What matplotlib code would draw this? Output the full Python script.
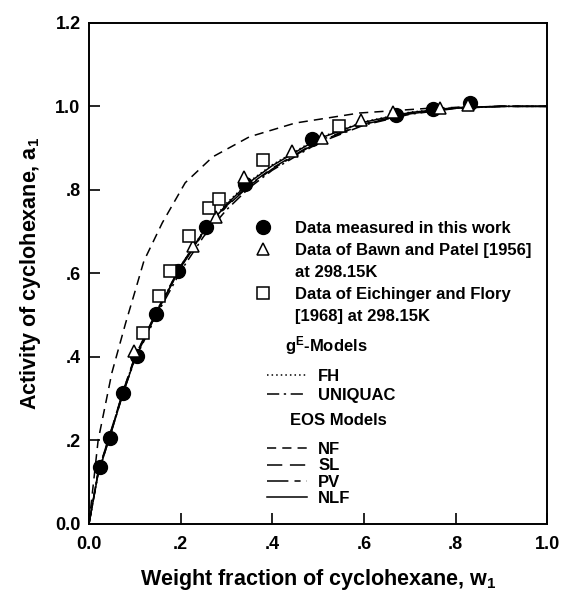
import numpy as np
import matplotlib
matplotlib.use('Agg')
import matplotlib.pyplot as plt
from matplotlib.lines import Line2D

plt.rcParams['font.family'] = ['Liberation Sans', 'DejaVu Sans']
plt.rcParams['font.weight'] = 'bold'
plt.rcParams['axes.labelweight'] = 'bold'
plt.rcParams['mathtext.fontset'] = 'custom'
plt.rcParams['mathtext.rm'] = 'Liberation Sans:bold'
plt.rcParams['mathtext.default'] = 'rm'

w_this = [0.024, 0.046, 0.074, 0.105, 0.146, 0.195, 0.255, 0.341, 0.487, 0.670, 0.751, 0.832]
a_this = [0.137, 0.206, 0.314, 0.402, 0.503, 0.606, 0.710, 0.813, 0.922, 0.980, 0.993, 1.008]

w_bawn = [0.098, 0.227, 0.277, 0.338, 0.443, 0.508, 0.594, 0.664, 0.766, 0.828]
a_bawn = [0.415, 0.666, 0.735, 0.831, 0.893, 0.925, 0.968, 0.987, 0.996, 1.004]

w_eich = [0.118, 0.153, 0.176, 0.218, 0.262, 0.284, 0.380, 0.546]
a_eich = [0.458, 0.547, 0.605, 0.689, 0.757, 0.778, 0.872, 0.953]

# model curves
w_mod = [0, 0.02, 0.05, 0.075, 0.10, 0.15, 0.20, 0.25, 0.30, 0.35, 0.40, 0.50, 0.60, 0.70, 0.80, 0.90, 1.0]
a_fh = [0, 0.122, 0.228, 0.318, 0.398, 0.513, 0.617, 0.702, 0.768, 0.820, 0.860, 0.924, 0.963, 0.986, 0.997, 1.0, 1.0]
a_uniquac = [0, 0.120, 0.225, 0.315, 0.393, 0.505, 0.605, 0.688, 0.752, 0.805, 0.847, 0.912, 0.955, 0.981, 0.995, 1.0, 1.0]
a_sl = [0, 0.125, 0.230, 0.320, 0.400, 0.515, 0.618, 0.700, 0.762, 0.812, 0.852, 0.917, 0.958, 0.983, 0.996, 1.0, 1.0]
a_pv = [0, 0.124, 0.228, 0.318, 0.398, 0.512, 0.614, 0.697, 0.760, 0.810, 0.850, 0.915, 0.957, 0.982, 0.996, 1.0, 1.0]
a_nlf = [0, 0.120, 0.225, 0.315, 0.395, 0.510, 0.615, 0.700, 0.765, 0.818, 0.858, 0.922, 0.962, 0.985, 0.997, 1.0, 1.0]

w_nf = [0, 0.02, 0.05, 0.08, 0.10, 0.12, 0.16, 0.21, 0.27, 0.35, 0.45, 0.59, 0.75, 0.90, 1.0]
a_nf = [0, 0.200, 0.362, 0.481, 0.555, 0.630, 0.721, 0.817, 0.879, 0.927, 0.960, 0.984, 0.996, 1.0, 1.0]

xticks = [0.0, 0.2, 0.4, 0.6, 0.8, 1.0]
xlabels = ['0.0', '.2', '.4', '.6', '.8', '1.0']
yticks = [0.0, 0.2, 0.4, 0.6, 0.8, 1.0, 1.2]
ylabels = ['0.0', '.2', '.4', '.6', '.8', '1.0', '1.2']

fig = plt.figure(figsize=(5.63, 5.91), dpi=100)
ax = fig.add_axes([0.158, 0.1134, 0.814, 0.848])

lw = 1.1
l_fh, = ax.plot(w_mod, a_fh, color='black', lw=lw, linestyle=(0, (1, 2)))
l_uq, = ax.plot(w_mod, a_uniquac, color='black', lw=lw, linestyle=(0, (8, 3, 1.5, 3)))
l_nf, = ax.plot(w_nf, a_nf, color='black', lw=lw, linestyle=(0, (6, 4)))
l_sl, = ax.plot(w_mod, a_sl, color='black', lw=lw, linestyle=(0, (10, 5)))
l_pv, = ax.plot(w_mod, a_pv, color='black', lw=lw, linestyle=(0, (14, 4, 4, 4)))
l_nlf, = ax.plot(w_mod, a_nlf, color='black', lw=lw)

p1, = ax.plot(w_this, a_this, 'o', color='black', ms=10, zorder=5)
p2, = ax.plot(w_bawn, a_bawn, '^', mfc='white', mec='black', mew=1.1, ms=9, zorder=6)
p3, = ax.plot(w_eich, a_eich, 's', mfc='white', mec='black', mew=1.1, ms=8.5, zorder=6)

ax.set_xlim(0, 1.0)
ax.set_ylim(0, 1.2)
ax.set_xticks(xticks)
ax.set_xticklabels(xlabels)
ax.set_yticks(yticks)
ax.set_yticklabels(ylabels)
ax.tick_params(direction='in', length=8, width=1.2, labelsize=13, pad=6,
               top=False, right=False)
ax.tick_params(axis='x', pad=9)
for s in ax.spines.values():
    s.set_linewidth(1.4)

ax.set_xlabel('Weight fraction of cyclohexane, w$_1$', fontsize=15.5, labelpad=10)
ax.set_ylabel('Activity of cyclohexane, a$_1$', fontsize=15.5, labelpad=9)

fs = 12
blank = Line2D([], [], linestyle='none')
leg1 = ax.legend([p1, p2, blank, p3, blank],
                 ['Data measured in this work', 'Data of Bawn and Patel [1956]',
                  'at 298.15K', 'Data of Eichinger and Flory', '[1968] at 298.15K'],
                 loc='upper left', bbox_to_anchor=(0.362, 0.605), frameon=False,
                 fontsize=fs, borderpad=0, handlelength=1.0, handletextpad=1.4,
                 labelspacing=0.42, borderaxespad=0)
ax.add_artist(leg1)

leg2 = ax.legend([l_fh, l_uq], ['FH', 'UNIQUAC'],
                 loc='upper left', bbox_to_anchor=(0.389, 0.310), frameon=False,
                 fontsize=fs, borderpad=0, handlelength=2.4, handletextpad=0.66,
                 labelspacing=0.25, borderaxespad=0)
ax.add_artist(leg2)

leg3 = ax.legend([l_nf, l_sl, l_pv, l_nlf], ['NF', 'SL', 'PV', 'NLF'],
                 loc='upper left', bbox_to_anchor=(0.389, 0.163), frameon=False,
                 fontsize=fs, borderpad=0, handlelength=2.4, handletextpad=0.66,
                 labelspacing=0.07, borderaxespad=0)

ax.text(0.428, 0.357, 'g$^{\\mathrm{E}}$-Models', transform=ax.transAxes,
        fontsize=fs, va='center', ha='left')
ax.text(0.439, 0.206, 'EOS Models', transform=ax.transAxes,
        fontsize=fs, va='center', ha='left')

fig.savefig('out.png', dpi=100)
